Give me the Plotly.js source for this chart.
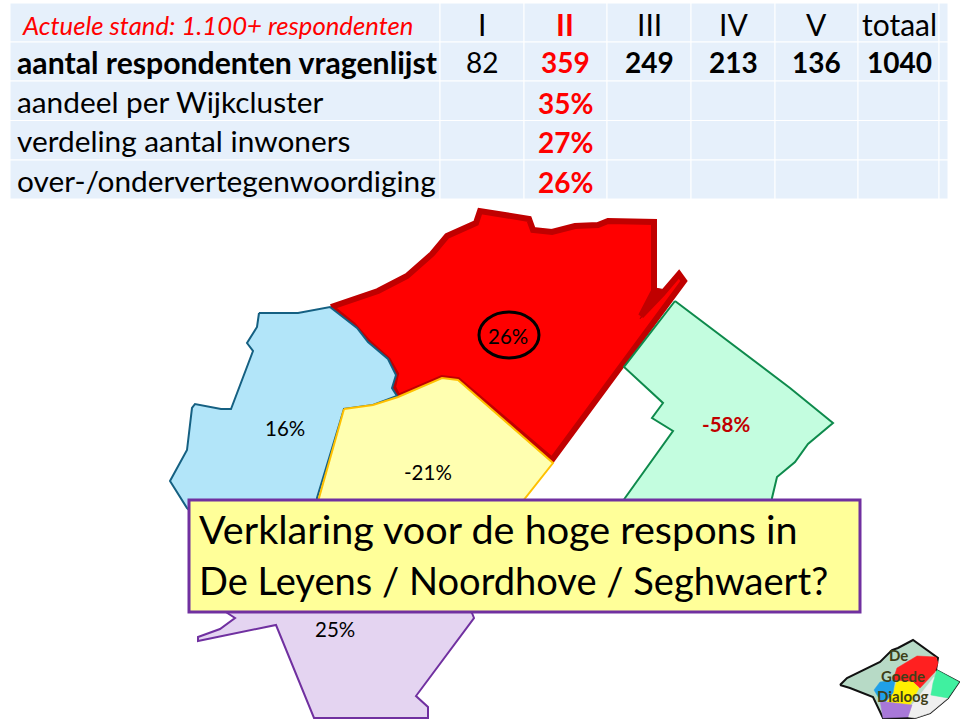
<!DOCTYPE html>
<html><head><meta charset="utf-8">
<script src="https://cdn.plot.ly/plotly-3.0.1.min.js"></script>
<style>html,body{margin:0;padding:0;background:#fff}</style></head>
<body><div id="chart" style="width:960px;height:720px"></div>
<script>
// --- table content ---
const tableTitle = 'Actuele stand: 1.100+ respondenten';
const clusters = ['I','II','III','IV','V','totaal'];
const rowLabels = ['aantal respondenten vragenlijst','aandeel per Wijkcluster','verdeling aantal inwoners','over-/ondervertegenwoordiging'];
const respondents = [82,359,249,213,136,1040];
const aandeel = ['', '35%','','','',''];
const verdeling = ['', '27%','','','',''];
const overOnder = ['', '26%','','','',''];
// --- map outlines ---
const redX = [331,378,407,432,447,476,480,529,533,552,575,598,608,654,654,641,662,679,684,552,458,442,398,393,396,388,368,353,331];
const redY = [307,291,276,254,236,223,211,219,230,232,226,225,221,222,291,316,294,274,281,460,380,378,397,387,374,360,342,325,307];
const wedgeX = [655,640,666,655];
const wedgeY = [288,319,290,288];
const blueX = [259,298,330,357,368,388,396,392,397,373,344,317,317,200,187,170,187,192,195,221,231,253,247,257,259];
const blueY = [313,313,307,328,342,359,375,388,396,405,409,498,520,520,508,481,450,408,404,409,409,351,343,327,313];
const yellowX = [344,373,398,442,458,553,500,310,344];
const yellowY = [409,405,397,378,380,463,530,530,409];
const greenX = [675,733,790,833,808,795,777,772,770,610,625,673,652,663,624,675];
const greenY = [301,345,388,423,444,462,477,498,520,520,498,431,418,403,367,301];
const purpleX = [215,235,220,198,198,276,314,428,428,416,474,472,460,215];
const purpleY = [605,618,629,637,641,625,718,718,707,696,618,613,600,605];
// --- map percentages ---
const mapLabels = ['26%','16%','-21%','-58%','25%'];
const mapLabelX = [508,285,428,726,335];
const mapLabelY = [336,428,472,424,629];
// --- callout ---
const calloutLines = ['Verklaring voor de hoge respons in','De Leyens / Noordhove / Seghwaert?'];
// --- logo ---
const logoWords = ['De','Goede','Dialoog'];
const logoOutX = [840,847,880,892,898,913,938,936,959,948,930,915,883,877,873,850,840];
const logoOutY = [685,678,662,650,648,640,658,670,682,698,713,718,718,706,697,688,685];
const logoRedX = [897,917,936,938,935,920,913,893,897];
const logoRedY = [668,656,657,663,672,688,682,680,668];
const logoYelX = [897,913,919,910,887,893,897];
const logoYelY = [681,682,688,705,702,693,681];
const logoBluX = [880,895,893,885,880,874,880];
const logoBluY = [682,680,693,702,700,690,682];
const logoPurX = [880,886,912,908,883,880];
const logoPurY = [700,702,705,717,718,700];
const logoGreX = [937,959,948,931,933,937];
const logoGreY = [670,682,698,695,683,670];
const logoGryX = [934,938,930,948,930,915,908,912,934];
const logoGryY = [677,680,695,698,713,718,717,705,677];

// layout helpers (pixel frame of the slide)
const colEdges = [10,440,524,607,691,775,858,939,948];
const rowEdges = [3,42,81,120.5,160,199];
const labelMid = [23,62,101.5,140.5,180.5];
const valueMid = [23,62,102.5,141.5,181.5];
const colMid = [482,565,649,733,816,899];
const FONT = 'Lato, Carlito, sans-serif';

const poly = (x,y,fill,line,w) => ({type:'scatter',mode:'lines',x,y,fill:'toself',fillcolor:fill,
  line:{color:line,width:w,shape:'linear'},hoverinfo:'skip',showlegend:false});
const traces = [
  poly(redX,redY,'#FF0000','#C00000',6),
  poly(wedgeX,wedgeY,'#C00000','#C00000',1),
  poly(blueX,blueY,'#B2E5F9','#156082',2),
  poly(yellowX,yellowY,'#FFFFB0','#FFC000',2),
  poly(greenX,greenY,'#C3FDDF','#0E8A4C',2),
  poly(purpleX,purpleY,'#E4D4F1','#7030A0',2),
  poly(logoOutX,logoOutY,'#B7DAC6','#111111',2),
  poly(logoGryX,logoGryY,'#EFEFEF','#EFEFEF',0.5),
  poly(logoRedX,logoRedY,'#FF2020','#FF2020',0.5),
  poly(logoYelX,logoYelY,'#FFF000','#FFF000',0.5),
  poly(logoBluX,logoBluY,'#20A0E8','#20A0E8',0.5),
  poly(logoPurX,logoPurY,'#A878D8','#A878D8',0.5),
  poly(logoGreX,logoGreY,'#40F0A0','#40F0A0',0.5)
];

const shapes = [];
for (let c=0;c<colEdges.length-1;c++) for (let r=0;r<rowEdges.length-1;r++) {
  shapes.push({type:'rect',layer:'below',xref:'x',yref:'y',x0:colEdges[c],x1:colEdges[c+1],y0:rowEdges[r],y1:rowEdges[r+1],
    fillcolor:'#E6F0FB',line:{color:'#FFFFFF',width:1}});
}
shapes.push({type:'circle',layer:'above',xref:'x',yref:'y',x0:479,x1:539,y0:312,y1:358,line:{color:'#000000',width:3},fillcolor:'rgba(0,0,0,0)'});
shapes.push({type:'rect',layer:'above',xref:'x',yref:'y',x0:189,x1:860,y0:500,y1:612,line:{color:'#7030A0',width:3},fillcolor:'#FFFF99'});

const ann = (x,y,text,size,color,anchor) => ({x,y,xref:'x',yref:'y',text,showarrow:false,xanchor:anchor||'center',yanchor:'middle',
  font:{family:FONT,size,color},align:anchor||'center',borderpad:0});
const annotations = [];
annotations.push(ann(21,25,'<i>'+tableTitle+'</i>',25.7,'#FF0000','left'));
clusters.forEach((c,i)=>annotations.push(ann(colMid[i],24,i===1?'<b>'+c+'</b>':c,30,i===1?'#FF0000':'#000000')));
rowLabels.forEach((t,i)=>annotations.push(ann(16,labelMid[i+1],i===0?'<b>'+t+'</b>':t,i===0?30.2:29.8,'#000000','left')));
respondents.forEach((v,i)=>annotations.push(ann(colMid[i],valueMid[1],i===0?String(v):'<b>'+v+'</b>',28,i===1?'#FF0000':'#000000')));
[aandeel,verdeling,overOnder].forEach((row,r)=>row.forEach((v,i)=>{
  if(v) annotations.push(ann(colMid[i],valueMid[r+2],'<b>'+v+'</b>',28,'#FF0000'));
}));
mapLabels.forEach((t,i)=>annotations.push(ann(mapLabelX[i],mapLabelY[i],i===3?'<b>'+t+'</b>':t,20.5,i===3?'#C00000':'#000000')));
calloutLines.forEach((t,i)=>annotations.push(ann(198,[528,579.5][i],t,[39.6,38.1][i],'#000000','left')));
logoWords.forEach((t,i)=>annotations.push(ann([898,903,903][i],[655,676,696][i],'<b>'+t+'</b>',15,'#3F3F18')));

Plotly.newPlot('chart',traces,{
  width:960,height:720,margin:{l:0,r:0,t:0,b:0},paper_bgcolor:'#FFFFFF',plot_bgcolor:'#FFFFFF',
  xaxis:{range:[0,960],visible:false,fixedrange:true},
  yaxis:{range:[720,0],visible:false,fixedrange:true},
  shapes,annotations,showlegend:false
},{displayModeBar:false,staticPlot:true});
</script></body></html>
